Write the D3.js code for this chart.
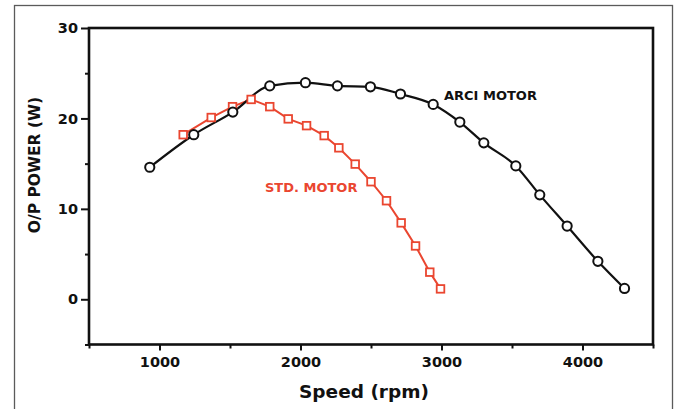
<!DOCTYPE html>
<html>
<head>
<meta charset="utf-8">
<script src="https://cdn.jsdelivr.net/npm/d3@7"></script>
<style>
  body { margin: 0; background: #fff; }
  svg { display: block; }
  .tick text { font-family: "DejaVu Sans", sans-serif; font-weight: bold; font-size: 14.5px; fill: #111; }
</style>
</head>
<body>
<div id="chart"></div>
<script>
// ARCI motor (black circles)
var arciSpeed = [931, 1243, 1520, 1782, 2035, 2262, 2496, 2709, 2941, 3130, 3300, 3527, 3697, 3891, 4109, 4298];
var arciPower = [14.6, 18.2, 20.7, 23.6, 23.95, 23.6, 23.5, 22.7, 21.55, 19.6, 17.3, 14.75, 11.55, 8.1, 4.2, 1.2];
// standard motor (red squares)
var stdSpeed = [1168, 1367, 1518, 1650, 1782, 1913, 2043, 2168, 2272, 2388, 2500, 2610, 2714, 2816, 2917, 2993];
var stdPower = [18.2, 20.1, 21.3, 22.1, 21.3, 19.95, 19.2, 18.1, 16.75, 14.95, 13.0, 10.9, 8.45, 5.9, 3.0, 1.15];

var xTicks = [1000, 2000, 3000, 4000];
var xMinor = [500, 1500, 2500, 3500, 4500];
var yTicks = [0, 10, 20, 30];
var yMinor = [-5, 5, 15, 25];

var W = 681, H = 409;
var red = "#ea4630";

var svg = d3.select("#chart").append("svg")
  .attr("width", W)
  .attr("height", H);

// outer frame of the figure
svg.append("rect")
  .attr("x", 14.5).attr("y", 5.5)
  .attr("width", 658).attr("height", 430)
  .attr("fill", "none")
  .attr("stroke", "#5a5a5a")
  .attr("stroke-width", 1.3);

var x = d3.scaleLinear().domain([500, 4500]).range([89, 653]);
var y = d3.scaleLinear().domain([-5, 30]).range([344.5, 28]);

// minor ticks
svg.append("g")
  .attr("transform", "translate(0," + y(-5) + ")")
  .call(d3.axisBottom(x).tickValues(xMinor).tickSize(4).tickFormat(""))
  .call(function(g){ g.select(".domain").remove(); })
  .selectAll("line").attr("stroke", "#111").attr("stroke-width", 2);

svg.append("g")
  .attr("transform", "translate(" + x(500) + ",0)")
  .call(d3.axisLeft(y).tickValues(yMinor).tickSize(4).tickFormat(""))
  .call(function(g){ g.select(".domain").remove(); })
  .selectAll("line").attr("stroke", "#111").attr("stroke-width", 2);

// major ticks + labels
var xAxis = svg.append("g")
  .attr("transform", "translate(0," + y(-5) + ")")
  .call(d3.axisBottom(x).tickValues(xTicks).tickSize(6).tickPadding(6).tickFormat(d3.format("d")));
xAxis.select(".domain").remove();
xAxis.selectAll("line").attr("stroke", "#111").attr("stroke-width", 2);

var yAxis = svg.append("g")
  .attr("transform", "translate(" + x(500) + ",0)")
  .call(d3.axisLeft(y).tickValues(yTicks).tickSize(8).tickPadding(3));
yAxis.select(".domain").remove();
yAxis.selectAll("line").attr("stroke", "#111").attr("stroke-width", 2);

// plot box
svg.append("rect")
  .attr("x", x(500)).attr("y", y(30))
  .attr("width", x(4500) - x(500))
  .attr("height", y(-5) - y(30))
  .attr("fill", "none")
  .attr("stroke", "#111")
  .attr("stroke-width", 2.6);

var arci = arciSpeed.map(function(s, i){ return {s: s, p: arciPower[i]}; });
var std = stdSpeed.map(function(s, i){ return {s: s, p: stdPower[i]}; });

// std motor line + squares
svg.append("path")
  .datum(std)
  .attr("fill", "none")
  .attr("stroke", red)
  .attr("stroke-width", 2)
  .attr("d", d3.line().x(function(d){ return x(d.s); }).y(function(d){ return y(d.p); }));

// arci line (smooth)
svg.append("path")
  .datum(arci)
  .attr("fill", "none")
  .attr("stroke", "#111")
  .attr("stroke-width", 2.2)
  .attr("d", d3.line().curve(d3.curveMonotoneX).x(function(d){ return x(d.s); }).y(function(d){ return y(d.p); }));

svg.append("g").selectAll("rect")
  .data(std)
  .join("rect")
  .attr("x", function(d){ return x(d.s) - 3.8; })
  .attr("y", function(d){ return y(d.p) - 3.8; })
  .attr("width", 7.6).attr("height", 7.6)
  .attr("fill", "#fff")
  .attr("stroke", red)
  .attr("stroke-width", 1.8);

svg.append("g").selectAll("circle")
  .data(arci)
  .join("circle")
  .attr("cx", function(d){ return x(d.s); })
  .attr("cy", function(d){ return y(d.p); })
  .attr("r", 4.6)
  .attr("fill", "#fff")
  .attr("stroke", "#111")
  .attr("stroke-width", 2);

// series labels
svg.append("text")
  .attr("x", 444).attr("y", 100)
  .style("font-family", "DejaVu Sans, sans-serif")
  .style("font-weight", "bold")
  .style("font-size", "13px")
  .attr("fill", "#111")
  .text("ARCI MOTOR");

svg.append("text")
  .attr("x", 265).attr("y", 192)
  .style("font-family", "DejaVu Sans, sans-serif")
  .style("font-weight", "bold")
  .style("font-size", "13px")
  .attr("fill", red)
  .text("STD. MOTOR");

// axis titles
svg.append("text")
  .attr("x", 364).attr("y", 398)
  .attr("text-anchor", "middle")
  .style("font-family", "DejaVu Sans, sans-serif")
  .style("font-weight", "bold")
  .style("font-size", "18.5px")
  .attr("fill", "#111")
  .text("Speed (rpm)");

svg.append("text")
  .attr("transform", "translate(40,165) rotate(-90)")
  .attr("text-anchor", "middle")
  .style("font-family", "DejaVu Sans, sans-serif")
  .style("font-weight", "bold")
  .style("font-size", "15.5px")
  .attr("fill", "#111")
  .text("O/P POWER (W)");
</script>
</body>
</html>
